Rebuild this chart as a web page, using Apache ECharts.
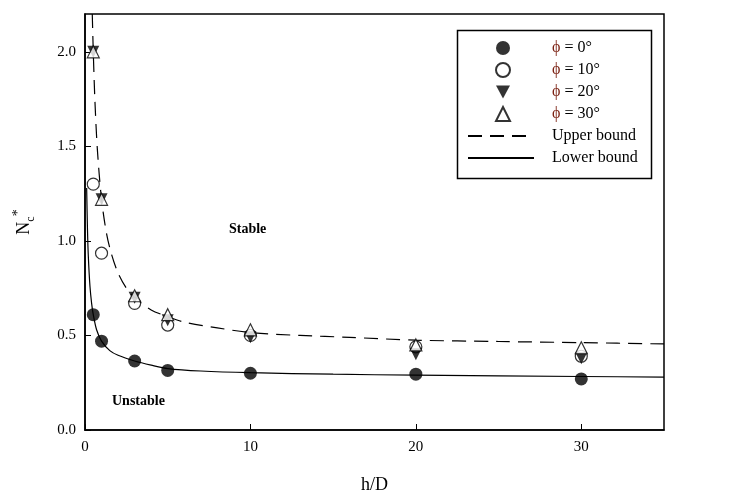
<!DOCTYPE html>
<html>
<head>
<meta charset="utf-8">
<script src="https://cdn.jsdelivr.net/npm/echarts@6/dist/echarts.min.js"></script>
<style>html,body{margin:0;padding:0;background:#fff}#c{width:732px;height:495px}</style>
</head>
<body>
<div id="c"></div>
<script>
// Data
const hD = [0.5, 1, 3, 5, 10, 20, 30];
const phi0 = [0.61, 0.47, 0.365, 0.315, 0.30, 0.295, 0.27];
const phi10 = [1.30, 0.935, 0.67, 0.555, 0.50, 0.44, 0.39];
const phi20 = [2.0, 1.22, 0.70, 0.58, 0.49, 0.40, 0.38];
const phi30 = [2.0, 1.22, 0.71, 0.61, 0.53, 0.45, 0.435];
const upperX = [0.44, 0.5, 0.6, 0.75, 1, 1.3, 1.6, 2, 2.5, 3, 4, 5, 6, 8, 10, 13, 16, 20, 25, 30, 35];
const upperY = [2.2, 2.0, 1.74, 1.48, 1.22, 1.04, 0.93, 0.83, 0.75, 0.70, 0.635, 0.60, 0.57, 0.54, 0.515, 0.50, 0.49, 0.475, 0.468, 0.462, 0.455];
const lowerX = [0.1, 0.15, 0.2, 0.3, 0.4, 0.5, 0.7, 1, 1.5, 2, 3, 4, 5, 7, 10, 15, 20, 30, 35];
const lowerY = [1.28, 1.06, 0.92, 0.76, 0.67, 0.61, 0.53, 0.47, 0.42, 0.395, 0.365, 0.343, 0.325, 0.312, 0.303, 0.295, 0.29, 0.283, 0.28];
const pointNames = ['ϕ = 0°', 'ϕ = 10°', 'ϕ = 20°', 'ϕ = 30°'];
const lineNames = ['Upper bound', 'Lower bound'];
const xTicks = [0, 10, 20, 30];
const yTicks = [0, 0.5, 1.0, 1.5, 2.0];

const pair = (xs, ys) => xs.map((x, i) => [x, ys[i]]);
const FONT = '"Liberation Serif", "DejaVu Serif", serif';

const legendText = (gap) => ({
  fontFamily: FONT, fontSize: 16, color: '#000',
  rich: {
    g: {width: gap, lineHeight: 18},
    p: {fontFamily: FONT, fontSize: 16, color: '#7a1f10', lineHeight: 18},
    t: {fontFamily: FONT, fontSize: 16, color: '#000', lineHeight: 18}
  }
});
const legendFmt = name => name.charAt(0) === 'ϕ'
  ? '{g|}{p|ϕ}{t|' + name.slice(1) + '}'
  : '{g|}{t|' + name + '}';

const chart = echarts.init(document.getElementById('c'), null, {renderer: 'canvas'});
chart.setOption({
  animation: false,
  backgroundColor: '#fff',
  grid: {left: 85, right: 68, top: 14, bottom: 65, show: true, borderColor: '#000', borderWidth: 1.5,
         outerBoundsMode: 'none', containLabel: false},
  xAxis: {
    type: 'value', min: 0, max: 35, interval: 10,
    name: 'h/D', nameLocation: 'middle', nameGap: 46,
    nameTextStyle: {fontFamily: FONT, fontSize: 18, color: '#000'},
    axisLine: {show: true, lineStyle: {color: '#000', width: 1.5}},
    axisTick: {show: true, inside: true, length: 6, lineStyle: {color: '#000', width: 1}},
    axisLabel: {fontFamily: FONT, fontSize: 15, color: '#000', margin: 10, showMaxLabel: false,
      formatter: v => xTicks.includes(v) ? String(v) : ''},
    splitLine: {show: false}
  },
  yAxis: {
    type: 'value', min: 0, max: 2.2, interval: 0.5,
    name: '{n|N}{c|c}{s|*}', nameLocation: 'middle', nameGap: 48, nameRotate: 90,
    nameTextStyle: {fontFamily: FONT, color: '#000',
      rich: {
        n: {fontFamily: FONT, fontSize: 18, lineHeight: 26, verticalAlign: 'middle', color: '#000'},
        c: {fontFamily: FONT, fontSize: 12, lineHeight: 26, verticalAlign: 'bottom', color: '#000'},
        s: {fontFamily: FONT, fontSize: 14, lineHeight: 26, verticalAlign: 'top', color: '#000'}
      }},
    axisLine: {show: true, lineStyle: {color: '#000', width: 1.5}},
    axisTick: {show: true, inside: true, length: 6, lineStyle: {color: '#000', width: 1}},
    axisLabel: {fontFamily: FONT, fontSize: 15, color: '#000', margin: 9, showMaxLabel: false,
      formatter: v => yTicks.some(t => Math.abs(t - v) < 1e-9) ? v.toFixed(1) : ''},
    splitLine: {show: false}
  },
  legend: [
    {
      data: [
        {name: pointNames[0]},
        {name: pointNames[1]},
        {name: pointNames[2], icon: 'path://M0,0 L12,0 L6,11 Z', itemStyle: {color: '#000'}},
        {name: pointNames[3]}
      ],
      orient: 'vertical', left: 495, top: 40,
      itemWidth: 14, itemHeight: 14, itemGap: 6, padding: 0,
      selectedMode: false,
      formatter: legendFmt,
      textStyle: legendText(37)
    },
    {
      data: lineNames,
      orient: 'vertical', left: 467, top: 128,
      itemWidth: 66, itemHeight: 14, itemGap: 6, padding: 0,
      selectedMode: false,
      formatter: legendFmt,
      textStyle: legendText(13)
    }
  ],
  graphic: [
    {type: 'rect', left: 455, top: 28, shape: {width: 194, height: 148},
     style: {fill: 'none', stroke: '#000', lineWidth: 1.5}, z: 100},
    {type: 'text', left: 229, top: 222,
     style: {text: 'Stable', font: 'bold 14px ' + FONT, fill: '#000'}},
    {type: 'text', left: 112, top: 394,
     style: {text: 'Unstable', font: 'bold 14px ' + FONT, fill: '#000'}}
  ],
  series: [
    {name: 'Upper bound', type: 'line', data: pair(upperX, upperY), smooth: 0.3,
     symbol: 'none', showSymbol: false,
     itemStyle: {color: 'rgba(0,0,0,0)', borderColor: 'rgba(0,0,0,0)'},
     lineStyle: {color: '#000', width: 1.2, type: [14, 8]}, z: 1},
    {name: 'Lower bound', type: 'line', data: pair(lowerX, lowerY), smooth: 0.3,
     symbol: 'none', showSymbol: false,
     itemStyle: {color: 'rgba(0,0,0,0)', borderColor: 'rgba(0,0,0,0)'},
     lineStyle: {color: '#000', width: 1.2}, z: 1},
    {name: 'ϕ = 0°', type: 'scatter', data: pair(hD, phi0), symbol: 'circle', symbolSize: 13,
     itemStyle: {color: '#000'}, z: 3},
    {name: 'ϕ = 10°', type: 'scatter', data: pair(hD, phi10), symbol: 'circle', symbolSize: 12,
     itemStyle: {color: '#fff', borderColor: '#000', borderWidth: 1.2}, z: 3},
    {name: 'ϕ = 20°', type: 'scatter', data: pair(hD, phi20), symbol: 'triangle', symbolRotate: 180, symbolSize: 12,
     itemStyle: {color: '#000'}, z: 4},
    {name: 'ϕ = 30°', type: 'scatter', data: pair(hD, phi30), symbol: 'triangle', symbolSize: 12,
     itemStyle: {color: '#fff', borderColor: '#000', borderWidth: 1.2}, z: 5}
  ]
});
</script>
</body>
</html>
